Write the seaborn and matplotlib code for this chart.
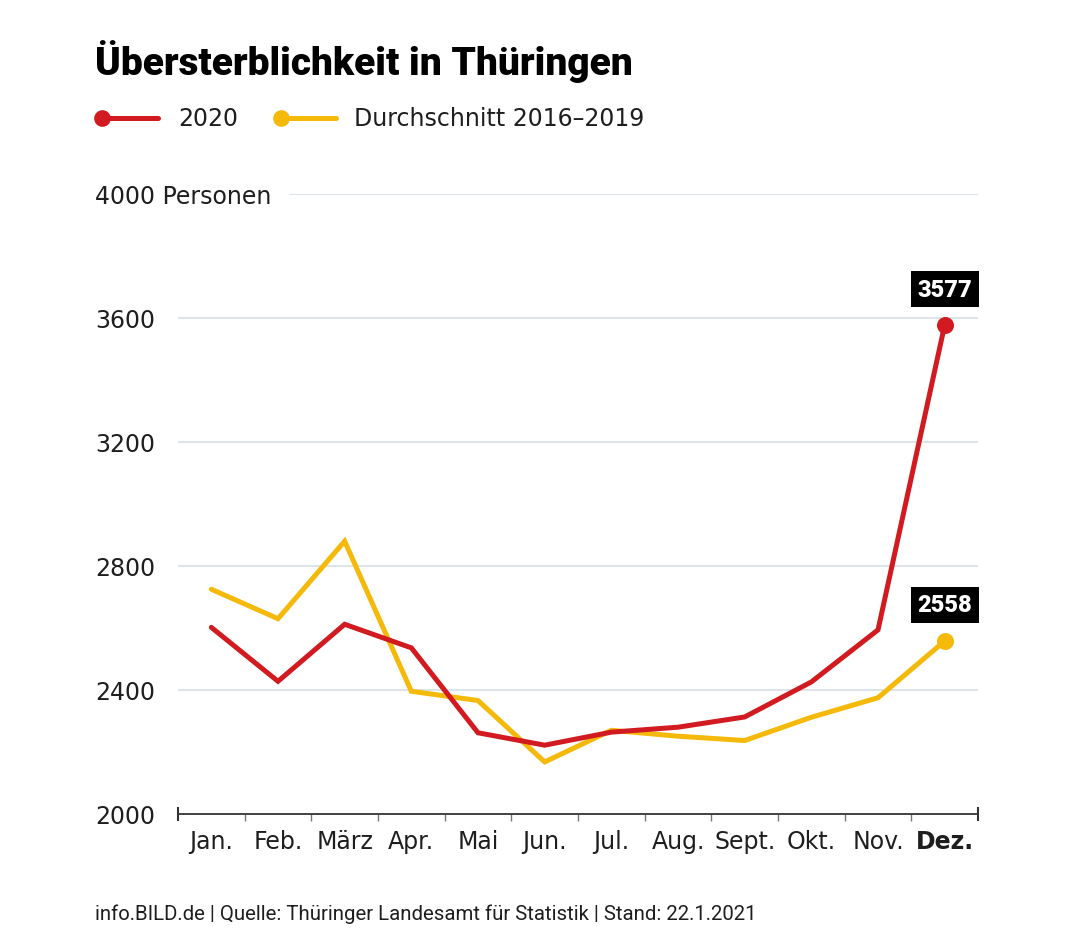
import numpy as np
import pandas as pd
import matplotlib.pyplot as plt
import seaborn as sns
from matplotlib.lines import Line2D

# Donnees
monate = ["Jan.", "Feb.", "März", "Apr.", "Mai", "Jun.", "Jul.", "Aug.", "Sept.", "Okt.", "Nov.", "Dez."]
werte_2020 = [2602, 2428, 2612, 2536, 2262, 2222, 2264, 2280, 2313, 2426, 2594, 3577]
werte_schnitt = [2725, 2630, 2880, 2396, 2366, 2168, 2270, 2251, 2237, 2312, 2375, 2558]
serien = ["2020", "Durchschnitt 2016–2019"]
y_ticks = [2000, 2400, 2800, 3200, 3600, 4000]
y_labels = ["2000", "2400", "2800", "3200", "3600", "4000 Personen"]

ROT = "#D11B20"
GELB = "#F5B90A"
GRID = "#D6DFE6"
TXT = "#1E1E1E"
FONT_TXT = ["DejaVu Sans"]
FONT_HEAVY = ["Roboto", "DejaVu Sans"]

df = pd.DataFrame({
    "pos": list(range(len(monate))) * 2,
    "wert": werte_2020 + werte_schnitt,
    "serie": [serien[0]] * len(monate) + [serien[1]] * len(monate),
})

sns.set_theme(style="white")
plt.rcParams["font.family"] = FONT_TXT

fig = plt.figure(figsize=(10.8, 9.53), dpi=100)
ax = fig.add_axes([178 / 1080, 1 - 815 / 953, 800 / 1080, (815 - 195) / 953])

# gridlines (la ligne 4000 commence apres le libelle "Personen")
for t in y_ticks[1:-1]:
    ax.axhline(t, color=GRID, lw=1.2, zorder=0)
ax.axhline(y_ticks[-1], xmin=0.14, color=GRID, lw=1.2, zorder=0)

sns.lineplot(data=df, x="pos", y="wert", hue="serie", hue_order=serien[::-1],
             palette={serien[0]: ROT, serien[1]: GELB}, lw=3.6, ax=ax,
             legend=False, solid_joinstyle="miter")

# points finaux + etiquettes
derniers = [(werte_schnitt[-1], GELB), (werte_2020[-1], ROT)]
for val, col in derniers:
    ax.scatter([len(monate) - 1], [val], s=150, color=col, zorder=5, linewidths=0)
    ax.annotate(str(val), xy=(len(monate) - 1, val), xytext=(0, 26), textcoords="offset points",
                ha="center", va="center", color="white", fontsize=17, fontweight="black",
                family=FONT_HEAVY,
                bbox=dict(boxstyle="square,pad=0.28", fc="black", ec="none"))

ax.set_xlim(-0.5, len(monate) - 0.5)
ax.set_ylim(2000, 4000)
ax.set_xlabel("")
ax.set_ylabel("")

for s in ["top", "right", "left"]:
    ax.spines[s].set_visible(False)
ax.spines["bottom"].set_color("#333333")
ax.spines["bottom"].set_linewidth(1.3)

ax.set_xticks(range(len(monate)))
ax.set_xticklabels(monate, fontsize=17, color=TXT)
ax.get_xticklabels()[-1].set_fontweight("bold")
ax.set_xticks(np.arange(0.5, len(monate) - 1, 1), minor=True)
ax.tick_params(axis="x", which="major", length=0, pad=11)
ax.tick_params(axis="x", which="minor", length=5, width=1, color="#777777", direction="out")
ax.tick_params(axis="x", which="both", bottom=True)

# petits traits aux extremites de l'axe
ax.plot([-0.5, len(monate) - 0.5], [0, 0], transform=ax.get_xaxis_transform(), ls="none",
        marker="|", ms=10, mew=1.5, color="#333333", clip_on=False)

ax.set_yticks(y_ticks)
ax.set_yticklabels(y_labels, fontsize=17, color=TXT, ha="left")
ax.tick_params(axis="y", length=0, pad=83 * 0.72)

# titre
fig.text(95 / 1080, 1 - 62 / 953, "Übersterblichkeit in Thüringen", fontsize=28,
         fontweight="black", family=FONT_HEAVY, va="center", color="black")

# legende manuelle
y_leg = 1 - 119 / 953
for x0, x1, xt, col, lab in [(102, 158, 178, ROT, serien[0]), (281, 336, 354, GELB, serien[1])]:
    fig.add_artist(Line2D([x0 / 1080, x1 / 1080], [y_leg, y_leg], color=col, lw=3.6))
    fig.add_artist(Line2D([x0 / 1080], [y_leg], color=col, marker="o", ms=12, mew=0))
    fig.text(xt / 1080, y_leg, lab, fontsize=17, va="center", color=TXT)

# source
fig.text(95 / 1080, 1 - 914 / 953,
         "info.BILD.de | Quelle: Thüringer Landesamt für Statistik | Stand: 22.1.2021",
         fontsize=14.7, family=["Roboto", "DejaVu Sans"], va="center", color=TXT)

fig.savefig("out.png", dpi=100, facecolor="white")
